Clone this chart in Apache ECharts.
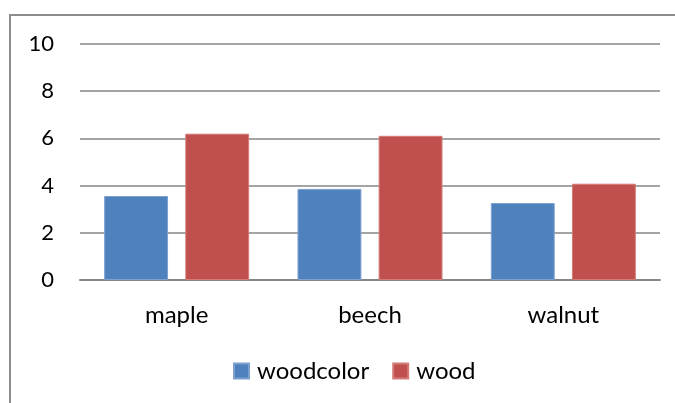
<!DOCTYPE html>
<html>
<head>
<meta charset="utf-8">
<script src="https://cdn.jsdelivr.net/npm/echarts@6/dist/echarts.min.js"></script>
<style>
  html, body { margin: 0; padding: 0; background: #fff; }
  #chart { width: 675px; height: 403px; }
</style>
</head>
<body>
<div id="chart"></div>
<script>
// Wood ratings per species
const categories = ['maple', 'beech', 'walnut'];
const woodcolor = [3.56, 3.86, 3.26];
const wood = [6.2, 6.11, 4.08];
const yTicks = { min: 0, max: 10, interval: 2 };

const FONT = 'Lato, "Open Sans", sans-serif';
const chart = echarts.init(document.getElementById('chart'));

chart.setOption({
  animation: false,
  backgroundColor: '#ffffff',
  graphic: [{
    type: 'rect',
    shape: { x: 10, y: 15, width: 700, height: 420 },
    style: { fill: 'none', stroke: '#8c8c8c', lineWidth: 2 },
    silent: true
  }],
  grid: { left: 80, right: 15, top: 44, bottom: 123, containLabel: false },
  legend: {
    bottom: 15,
    left: 228,
    itemWidth: 15,
    itemHeight: 15,
    itemGap: 23,
    icon: 'rect',
    textStyle: { fontFamily: FONT, fontSize: 24, color: '#000', padding: [0, 0, 0, 3] },
    data: ['woodcolor', 'wood']
  },
  xAxis: {
    type: 'category',
    data: categories,
    axisLine: { show: true, lineStyle: { color: '#868686', width: 2 } },
    axisTick: { show: false },
    axisLabel: { fontFamily: FONT, fontSize: 24, color: '#000', margin: 23 }
  },
  yAxis: {
    type: 'value',
    min: yTicks.min,
    max: yTicks.max,
    interval: yTicks.interval,
    axisLine: { show: false },
    axisTick: { show: false },
    axisLabel: { fontFamily: FONT, fontSize: 22, color: '#000', margin: 26 },
    splitLine: { lineStyle: { color: '#868686', width: 1.5 } }
  },
  series: [
    {
      name: 'woodcolor',
      type: 'bar',
      data: woodcolor,
      barGap: '27%',
      barCategoryGap: '25%',
      itemStyle: { color: '#4f81bd', borderColor: '#7da0cf', borderWidth: 1 }
    },
    {
      name: 'wood',
      type: 'bar',
      data: wood,
      barGap: '27%',
      barCategoryGap: '25%',
      itemStyle: { color: '#c0504d', borderColor: '#d47c7a', borderWidth: 1 }
    }
  ]
});
</script>
</body>
</html>
